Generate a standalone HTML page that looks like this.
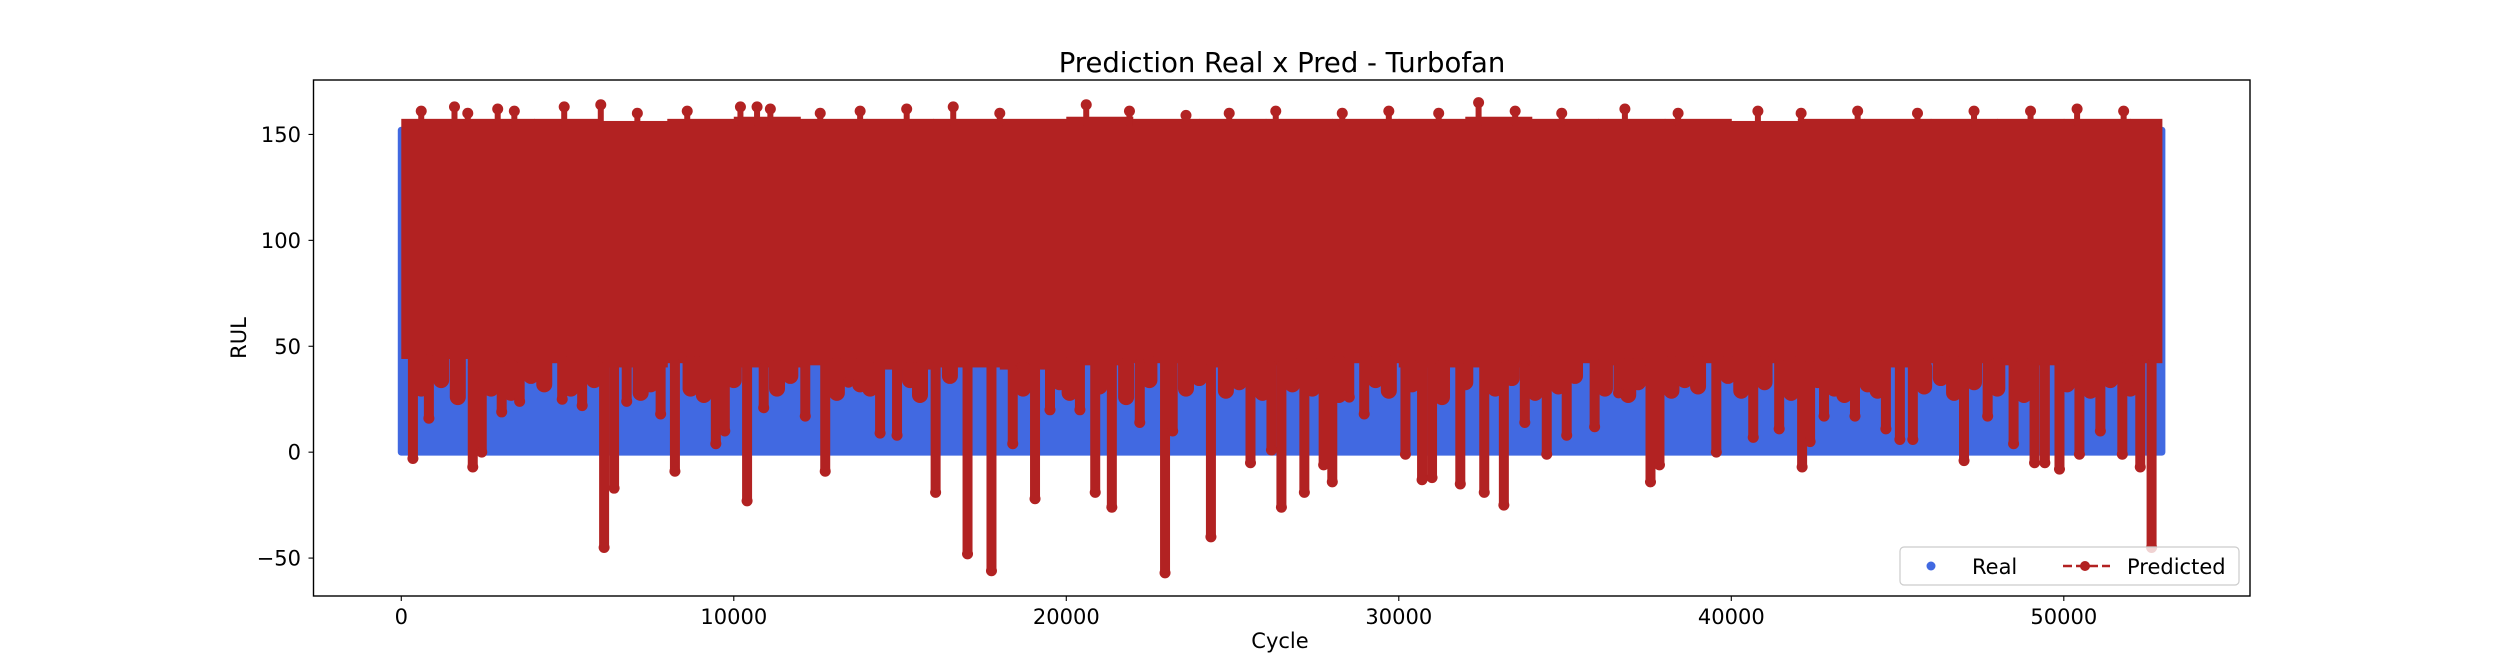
<!DOCTYPE html>
<html>
<head>
<meta charset="utf-8">
<style>
  html,body{margin:0;padding:0;background:#fff;}
  svg{display:block;}
  text{font-family:"DejaVu Sans","Liberation Sans",sans-serif;fill:#000;}
</style>
</head>
<body>
<svg id="chart" width="2500" height="670" viewBox="0 0 2500 670" xmlns="http://www.w3.org/2000/svg">
  <rect x="0" y="0" width="2500" height="670" fill="#fff"/>
  <text x="1282" y="72" font-size="27.5" text-anchor="middle">Prediction Real x Pred - Turbofan</text>
  <defs><clipPath id="plotclip"><rect x="313.5" y="80" width="1936.5" height="516"/></clipPath></defs>
  <g id="plot" clip-path="url(#plotclip)"></g>
  <g id="axes"></g>
  <rect x="313.5" y="80" width="1936.5" height="516" fill="none" stroke="#000" stroke-width="1.4"/>
  <text x="1280" y="648" font-size="21" text-anchor="middle">Cycle</text>
  <text x="0" y="0" font-size="21" text-anchor="middle" transform="translate(246,338) rotate(-90)">RUL</text>
  <g>
    <rect x="1900" y="547" width="339" height="38" rx="4" fill="#fff" fill-opacity="0.8" stroke="#ccc" stroke-width="1.2"/>
    <g>
      <circle cx="1931" cy="566" r="4.5" fill="#4169e1"/>
      <text x="1972" y="574" font-size="21">Real</text>
    </g>
    <g>
      <line x1="2063" y1="566" x2="2110" y2="566" stroke="#b22222" stroke-width="2.5" stroke-dasharray="9,4"/>
      <circle cx="2085" cy="566" r="5" fill="#b22222"/>
      <text x="2127" y="574" font-size="21">Predicted</text>
    </g>
  </g>
</svg>
<script>
// ---- data ----
const xTicks = [0, 10000, 20000, 30000, 40000, 50000];
const yTicks = [-50, 0, 50, 100, 150];
const realCycleEnd = 52950;
const realMax = 152;
const realMin = 0;
const binStarts = [0,2000,4000,6000,8000,10000,12000,14000,16000,18000,20000,22000,24000,26000,28000,30000,32000,34000,36000,38000,40000,42000,44000,46000,48000,50000,52000];
const binEnds   = [2000,4000,6000,8000,10000,12000,14000,16000,18000,20000,22000,24000,26000,28000,30000,32000,34000,36000,38000,40000,42000,44000,46000,48000,50000,52000,52950];
const predTop   = [155,155,155,154,155,156,155,155,155,155,156,155,155,155,155,155,156,155,155,155,154,155,155,155,155,155,155];
const predBase  = [44,40,42,40,42,40,41,39,40,39,41,42,40,41,42,40,40,42,41,42,42,41,40,42,41,40,42];
const spikeCycles = [350,830,2150,2420,3020,3560,4840,5440,6100,6400,6780,7800,8230,9460,9730,10400,10900,12150,12750,13450,14400,14910,16070,17030,17750,18390,19060,19510,20410,20870,21370,22210,22970,23200,24350,25540,26170,26470,27160,27740,28000,28510,28960,30200,30700,31000,31850,32570,33160,33790,34450,35050,35890,36610,37570,37840,39550,40660,41440,42130,42370,42790,43720,44650,45070,45460,47000,47710,48490,49120,49430,49870,50470,51100,51760,52300,52640];
const spikeMins   = [-3,16,-7,0,19,24,25,22,-45,-17,24,18,-9,4,10,-23,21,17,-9,33,9,8,-19,-48,-56,4,-22,20,20,-19,-26,14,-57,10,-40,-5,1,-26,-19,-6,-14,26,18,-1,-13,-12,-15,-19,-25,14,-1,8,12,28,-14,-6,0,7,11,-7,5,17,17,11,6,6,-4,17,4,-5,-5,-8,-1,10,-1,-7,-45];
const midCycles = [600,1200,1700,2700,3300,3900,4300,5100,5800,7200,7500,8700,9100,10000,11300,11700,13100,13800,14100,15300,15600,16500,18700,19800,20100,21000,21800,22500,23600,24000,24800,25200,25900,26800,27400,28200,29300,29700,30400,31300,32000,32900,33400,34100,34800,35300,36200,36900,37200,38200,38600,39000,39900,40300,41000,41800,42600,43100,43400,44100,44400,45800,46300,46700,47300,48000,48800,50100,50800,51400,52000];
const midMins   = [30,34,26,30,28,36,32,30,34,28,32,30,27,34,30,36,28,32,30,34,27,36,30,33,28,31,26,34,30,35,29,33,28,32,30,27,34,29,32,26,33,30,35,28,31,36,30,27,33,29,34,31,36,29,33,28,34,30,27,32,29,31,35,28,33,30,27,32,29,34,30];
const topCycles = [600,1600,2000,2900,3400,4900,6000,7100,8600,10200,10700,11100,12600,13800,15200,16600,18000,20600,21900,23600,24900,26300,28300,29700,31200,32400,33500,34900,36800,38400,40800,42100,43800,45600,47300,49000,50400,51800];
const topVals   = [161,163,160,162,161,163,164,160,161,163,163,162,160,161,162,163,160,164,161,159,160,161,160,161,160,165,161,160,162,160,161,160,161,160,161,161,162,161];

// ---- scales ----
const X0 = 313.5, X1 = 2250, Y0 = 596, Y1 = 80;
const xMin = -2640, xMax = 55600, yMin = -67.9, yMax = 175.7;
function xs(v){ return X0 + (v - xMin) / (xMax - xMin) * (X1 - X0); }
function ys(v){ return Y0 - (v - yMin) / (yMax - yMin) * (Y0 - Y1); }

const NS = "http://www.w3.org/2000/svg";
const plot = document.getElementById('plot');
const axes = document.getElementById('axes');
function mk(tag, attrs, parent){
  const e = document.createElementNS(NS, tag);
  for (const k in attrs) e.setAttribute(k, attrs[k]);
  parent.appendChild(e);
  return e;
}
function baseAt(c){ return predBase[Math.min(binStarts.length - 1, Math.floor(c / 2000))]; }

// Real series (dense scatter band)
const realBand = mk('rect', {x: xs(0)-3.5, y: ys(realMax)-3.5, width: xs(realCycleEnd)-xs(0)+7, height: ys(realMin)-ys(realMax)+7, rx: 3.5, fill: '#4169e1'}, plot);



// Predicted bulk per bin
for (let i = 0; i < binStarts.length; i++) {
  const r = mk('rect', {x: xs(binStarts[i]), y: ys(predTop[i]) - 5, width: xs(binEnds[i]) - xs(binStarts[i]) + 0.5, height: ys(predBase[i]) - ys(predTop[i]) + 5, fill: '#b22222'}, plot);
  
  
}
// Mid-depth fingers
for (let i = 0; i < midCycles.length; i++) {
  const x = xs(midCycles[i]);
  const l = mk('line', {x1: x, y1: ys(baseAt(midCycles[i])), x2: x, y2: ys(midMins[i]), stroke: '#b22222', 'stroke-width': 16, 'stroke-linecap': 'round'}, plot);
  
  
}
// Downward spikes
for (let i = 0; i < spikeCycles.length; i++) {
  const x = xs(spikeCycles[i]);
  const l = mk('line', {x1: x, y1: ys(baseAt(spikeCycles[i])), x2: x, y2: ys(spikeMins[i]), stroke: '#b22222', 'stroke-width': 10, 'stroke-linecap': 'round'}, plot);
  
  
  const c = mk('circle', {cx: x, cy: ys(spikeMins[i]), r: 5.5, fill: '#b22222'}, plot);
  
  
}
// Upward outliers
for (let i = 0; i < topCycles.length; i++) {
  const x = xs(topCycles[i]);
  const l = mk('line', {x1: x, y1: ys(154), x2: x, y2: ys(topVals[i]), stroke: '#b22222', 'stroke-width': 6}, plot);
  
  
  const c = mk('circle', {cx: x, cy: ys(topVals[i]), r: 5.5, fill: '#b22222'}, plot);
  
  
}

// Axis ticks
xTicks.forEach(v => {
  const t = mk('line', {x1: xs(v), y1: Y0, x2: xs(v), y2: Y0 + 5, stroke: '#000', 'stroke-width': 1.1}, axes);
  
  
  const l = mk('text', {x: xs(v), y: 624, 'font-size': 21, 'text-anchor': 'middle'}, axes);
  l.textContent = String(v);
  
  
});
yTicks.forEach(v => {
  const t = mk('line', {x1: X0 - 5, y1: ys(v), x2: X0, y2: ys(v), stroke: '#000', 'stroke-width': 1.1}, axes);
  
  
  const l = mk('text', {x: 301, y: ys(v) + 7.5, 'font-size': 21, 'text-anchor': 'end'}, axes);
  l.textContent = v < 0 ? '\u2212' + Math.abs(v) : String(v);
  
  
});
</script>
</body>
</html>
